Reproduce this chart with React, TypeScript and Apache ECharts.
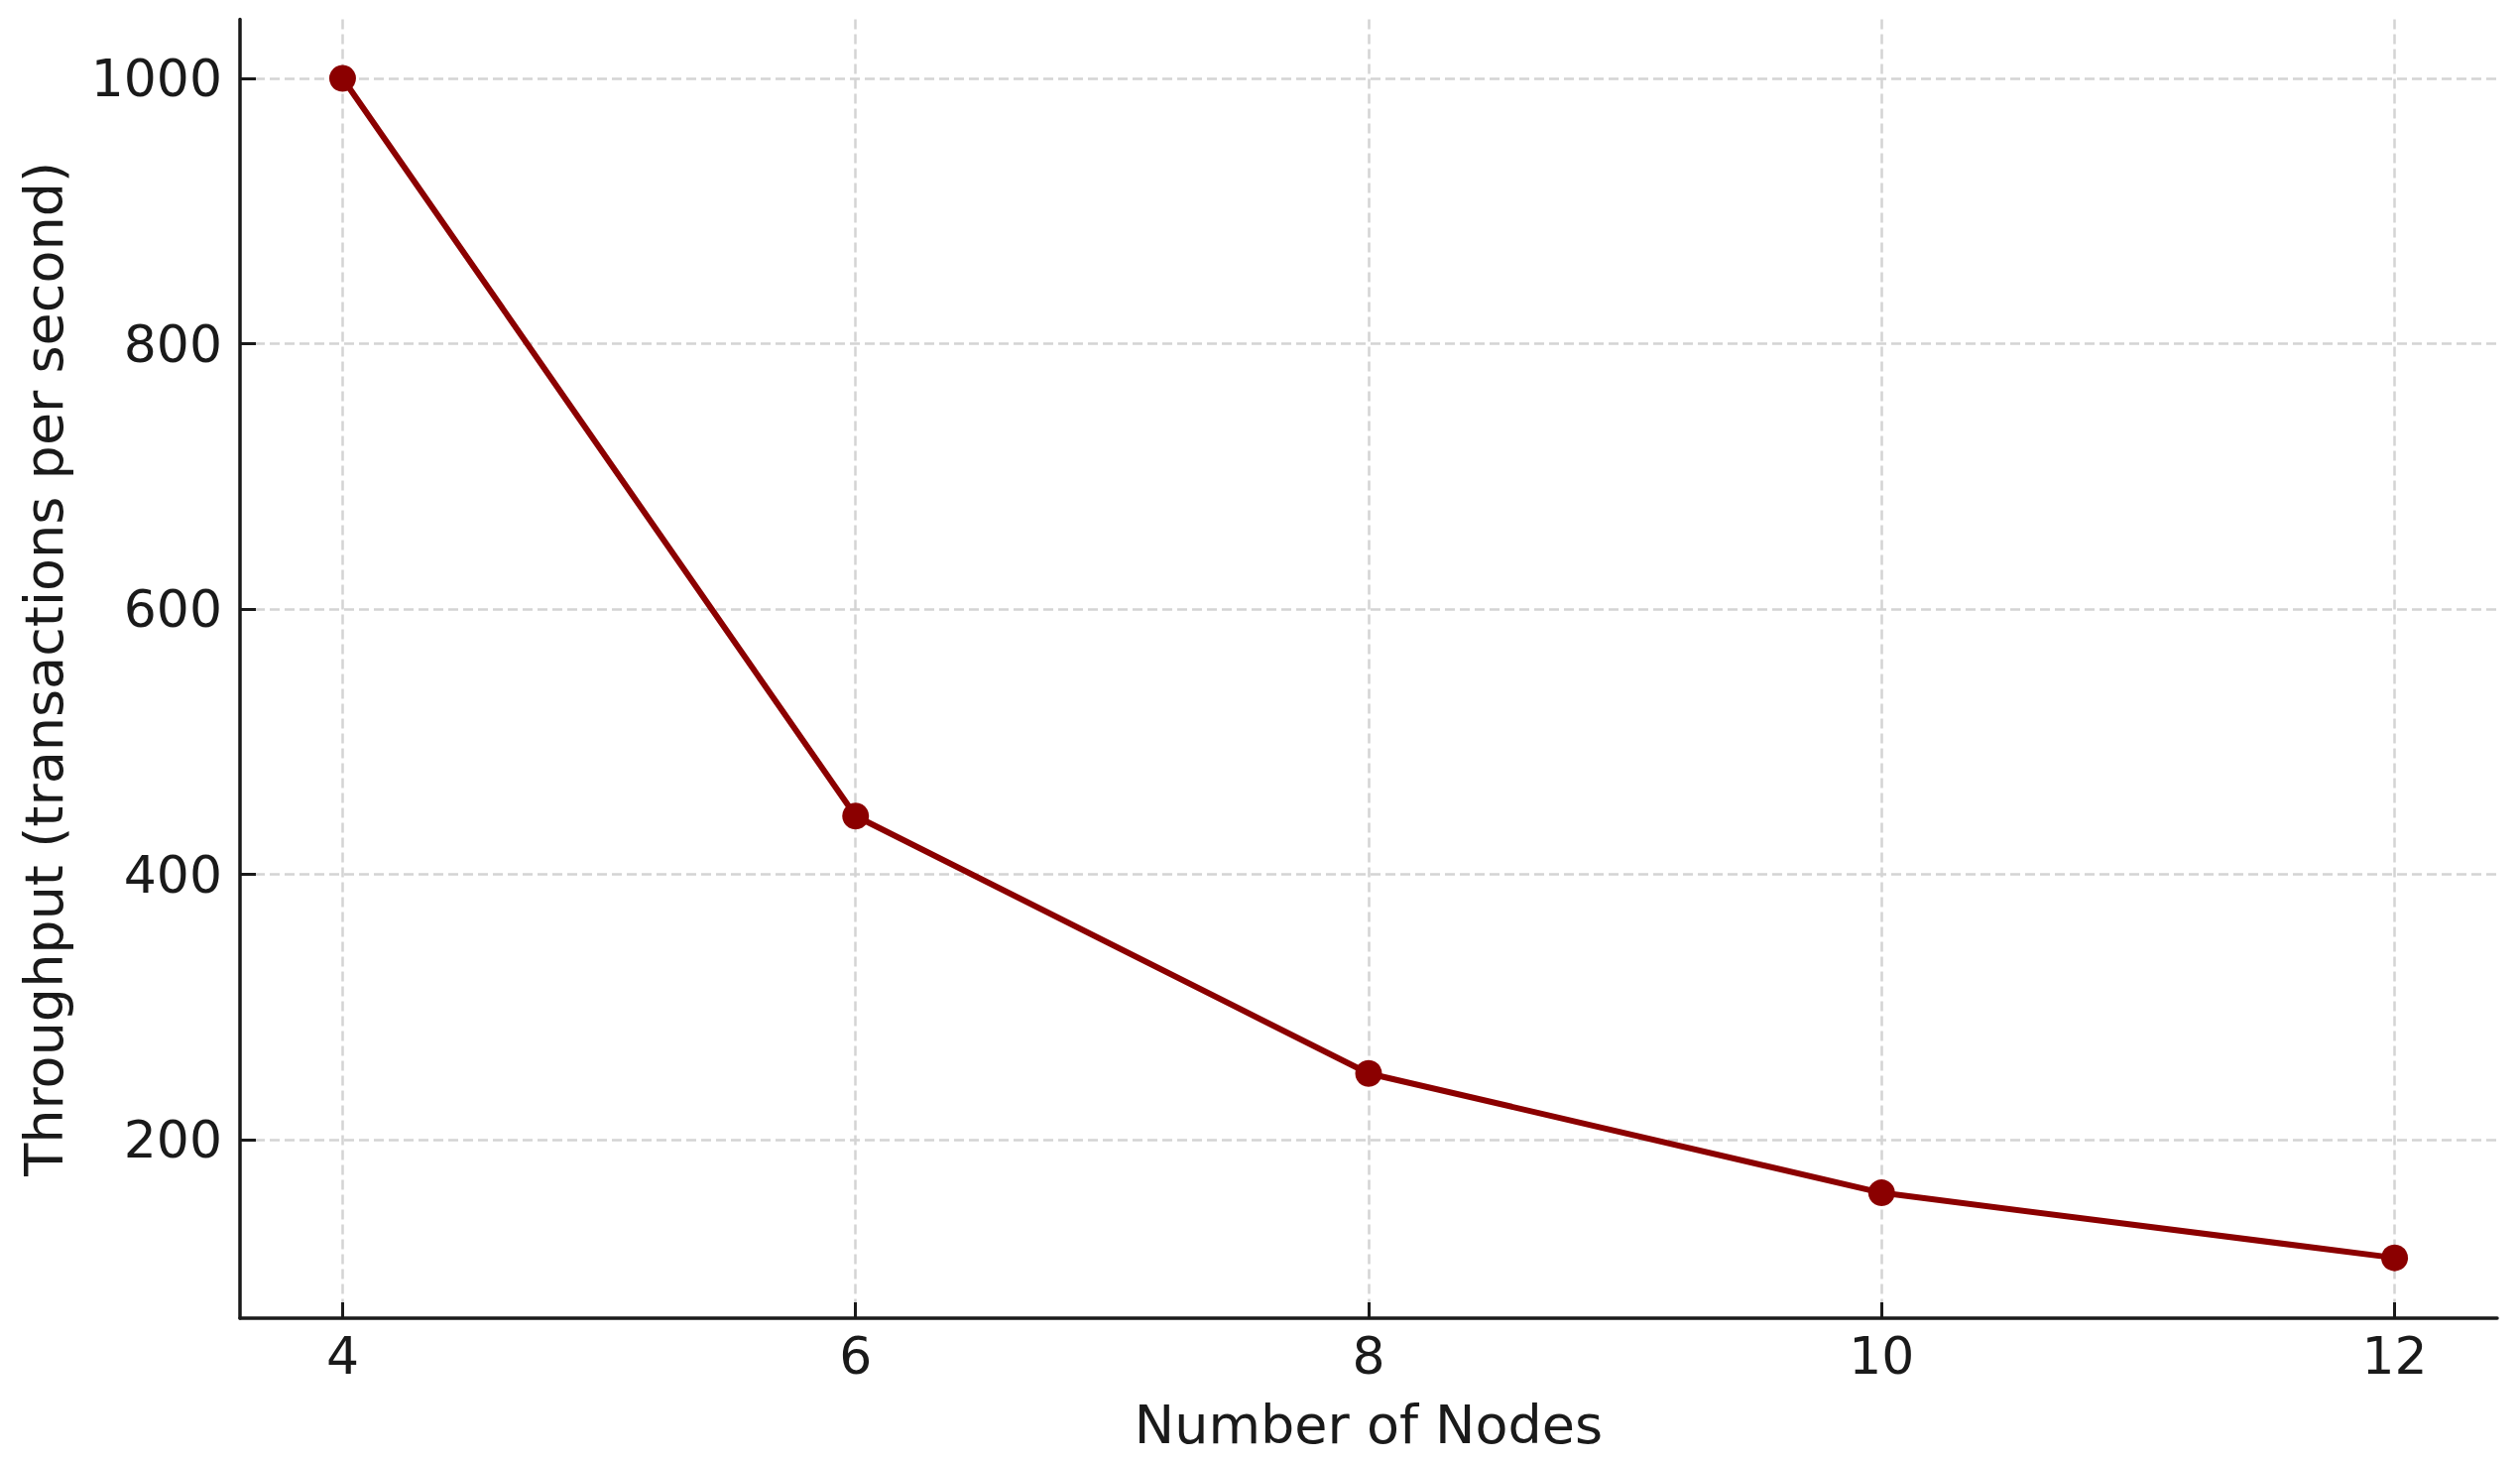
import React, { useEffect, useRef } from "react";
import * as echarts from "echarts";

const nodes = [4, 6, 8, 10, 12];
const throughput = [1000, 444, 250, 160, 111];
const xTicks = [4, 6, 8, 10, 12];
const yTicks = [200, 400, 600, 800, 1000];
const xLabel = "Number of Nodes";
const yLabel = "Throughput (transactions per second)";

const FONT = "DejaVu Sans";

export default function App() {
  const ref = useRef<HTMLDivElement>(null);
  useEffect(() => {
    document.body.style.margin = "0";
    const chart = echarts.init(ref.current!, null, { renderer: "svg" });
    const axisCommon = {
      axisLine: { show: true, lineStyle: { color: "#1a1a1a", width: 3.5 } },
      axisTick: { show: true, inside: true, length: 16, lineStyle: { color: "#1a1a1a", width: 3 } },
      splitLine: { show: true, lineStyle: { color: "#d4d4d4", width: 2.5, type: [10, 5] } },
      nameTextStyle: { fontFamily: FONT, fontSize: 54, color: "#1a1a1a" },
    };
    const labelStyle = {
      fontFamily: FONT,
      fontSize: 52,
      color: "#1a1a1a",
      formatter: (v: number) => String(v),
    };
    chart.setOption({
      animation: false,
      backgroundColor: "#ffffff",
      grid: { left: 242, top: 19.5, right: 23, bottom: 146, containLabel: false },
      xAxis: {
        type: "value",
        min: 3.6,
        max: 12.4,
        name: xLabel,
        nameLocation: "middle",
        nameGap: 80,
        ...axisCommon,
        axisTick: { ...axisCommon.axisTick, customValues: xTicks },
        axisLabel: { ...labelStyle, customValues: xTicks, margin: 12 },
      },
      yAxis: {
        type: "value",
        min: 65.5,
        max: 1044.5,
        name: yLabel,
        nameLocation: "middle",
        nameGap: 171,
        ...axisCommon,
        axisTick: { ...axisCommon.axisTick, customValues: yTicks },
        axisLabel: { ...labelStyle, customValues: yTicks, margin: 18 },
      },
      series: [
        {
          type: "line",
          data: nodes.map((n, i) => [n, throughput[i]]),
          lineStyle: { color: "#8b0000", width: 6 },
          itemStyle: { color: "#8b0000" },
          symbol: "circle",
          symbolSize: 27,
          showAllSymbol: true,
        },
      ],
    });
    return () => chart.dispose();
  }, []);
  return <div ref={ref} style={{ width: 2541, height: 1475 }} />;
}
